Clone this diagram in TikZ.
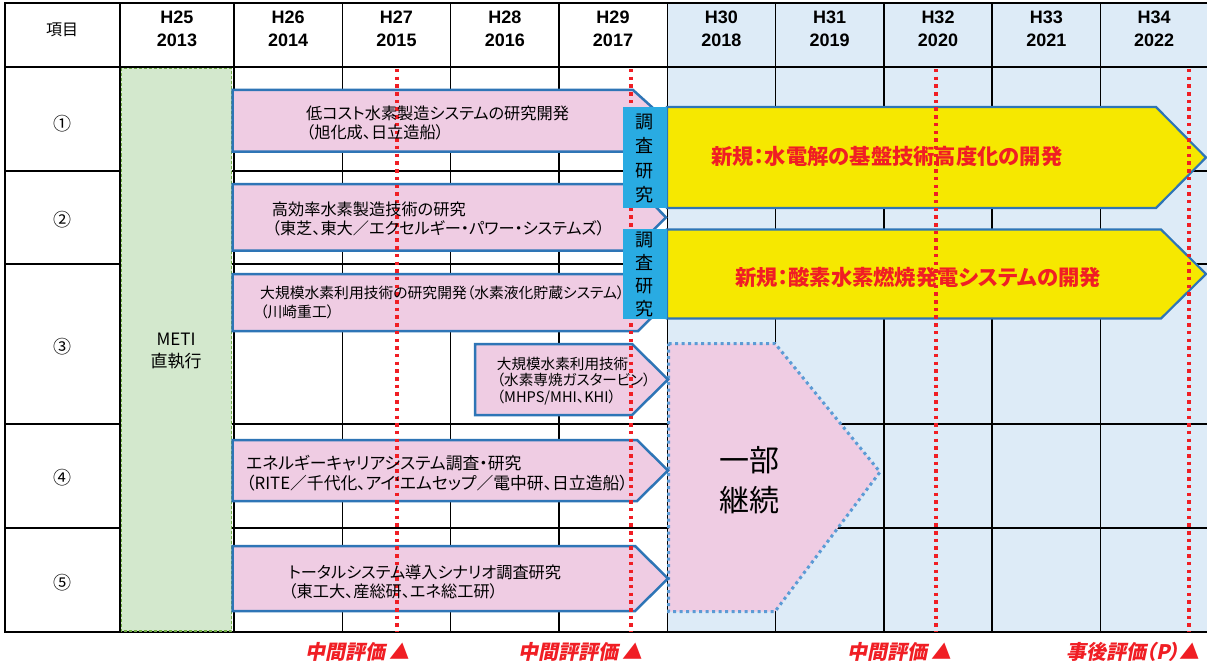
\documentclass[tikz,border=0pt]{standalone}
\usepackage{fontspec}
\newfontfamily\jp{Noto Sans CJK JP}[RawFeature=+palt]
\newfontfamily\jpsl{Noto Sans CJK JP}[RawFeature=+palt,FakeSlant=0.2]
\newfontfamily\hd{Liberation Sans}
\definecolor{pinkf}{RGB}{239,204,227}
\definecolor{ablue}{RGB}{46,117,182}
\definecolor{lblue}{RGB}{221,235,247}
\definecolor{yel}{RGB}{246,232,0}
\definecolor{sky}{RGB}{41,171,226}
\definecolor{gfill}{RGB}{211,232,205}
\definecolor{gdash}{RGB}{112,173,71}
\definecolor{redd}{RGB}{240,30,36}
\definecolor{dotblue}{RGB}{91,155,213}
\begin{document}
\begin{tikzpicture}[x=1pt,y=-1pt,
  gridl/.style={line width=1.4pt,black},
  border/.style={line width=2pt,black},
  pinkarrow/.style={fill=pinkf,draw=ablue,line width=2.5pt,line join=miter},
  yelarrow/.style={fill=yel,draw=ablue,line width=2.2pt,line join=miter},
  reddots/.style={draw=redd,line width=3.5pt,dash pattern=on 3.5pt off 4.2pt},
  metibox/.style={fill=gfill,draw=gdash,line width=1.3pt,dash pattern=on 3pt off 2pt},
  skybox/.style={fill=sky},
  penta/.style={fill=pinkf,draw=dotblue,line width=3pt,dash pattern=on 3pt off 3.5pt},
  hdr/.style={font={\hd\bfseries\fontsize{18}{23}\selectfont},align=center,inner sep=0},
  jplab/.style={font={\jp\fontsize{16}{19}\selectfont},inner sep=0},
  numlab/.style={font={\jp\fontsize{18}{20}\selectfont},inner sep=0},
  ptext/.style={font={\jp\fontsize{16.2}{19}\selectfont},anchor=west,align=left,inner sep=0},
  ptextk/.style={ptext,font={\jp\fontsize{14.8}{19}\selectfont}},
  ytext/.style={font={\jp\bfseries\fontsize{21.3}{24}\selectfont},text=redd,inner sep=0},
  btext/.style={font={\jp\fontsize{18}{24.5}\selectfont},align=center,inner sep=0},
  rlab/.style={font={\jpsl\bfseries\fontsize{20}{22}\selectfont},text=redd,anchor=east,inner sep=0}
]
\useasboundingbox (0,0) rectangle (1207,666);
\fill[white] (0,0) rectangle (1207,666);
% light blue future area
\fill[lblue] (667.2,3) rectangle (1210,632);
% grid
\foreach \x in {120,234,342.3,450.6,558.9,667.2,775.5,883.8,992.1,1100.4}
  \draw[gridl] (\x,3) -- (\x,632);
\foreach \y in {171,264,424,528}
  \draw[gridl] (5,\y) -- (1210,\y);
\draw[border] (5,67) -- (1210,67);
\draw[border] (1210,3) -- (5,3) -- (5,632) -- (1210,632);
% METI box
\draw[metibox] (121.2,68.5) rectangle (231.5,631);
% partial continuation pentagon
\draw[penta] (668.5,343.5) -- (775,343.5) -- (880,472) -- (775,611.5) -- (668.5,611.5) -- cycle;
% pink arrows
\draw[pinkarrow] (232.7,90) -- (633,90) -- (667,120.7) -- (633,151.5) -- (232.7,151.5) -- cycle;
\draw[pinkarrow] (232.7,184) -- (633,184) -- (666,217.3) -- (633,250.7) -- (232.7,250.7) -- cycle;
\draw[pinkarrow] (232.7,274) -- (638,274) -- (667,302.5) -- (638,331) -- (232.7,331) -- cycle;
\draw[pinkarrow] (475,344) -- (632,344) -- (668,379.5) -- (632,415) -- (475,415) -- cycle;
\draw[pinkarrow] (232.7,440) -- (637,440) -- (668,470.5) -- (637,501) -- (232.7,501) -- cycle;
\draw[pinkarrow] (232.7,546) -- (635,546) -- (668,578.5) -- (635,611) -- (232.7,611) -- cycle;
% yellow arrows
\draw[yelarrow] (667,107) -- (1156,107) -- (1206,157.5) -- (1156,208) -- (667,208) -- cycle;
\draw[yelarrow] (667,229.5) -- (1161,229.5) -- (1206,274) -- (1161,318.5) -- (667,318.5) -- cycle;
% red dotted evaluation lines
\foreach \x in {397,631,936,1189}
  \draw[reddots] (\x,69) -- (\x,632);
% survey boxes
\fill[skybox] (622.7,106.7) rectangle (667,208.3);
\fill[skybox] (622.7,229.3) rectangle (667,319);
% header texts
\node[jplab] (hk) at (62,30) {項目};
\foreach \cx/\h/\yr [count=\i] in {177/H25/2013,288.2/H26/2014,396.5/H27/2015,504.8/H28/2016,613/H29/2017,721.4/H30/2018,829.7/H31/2019,938/H32/2020,1046.3/H33/2021,1154.2/H34/2022}
  \node[hdr] (hy\i) at (\cx,29) {\h\\\yr};
% item numbers
\node[numlab] (n1) at (62,124) {①};
\node[numlab] (n2) at (62,220) {②};
\node[numlab] (n3) at (62,347) {③};
\node[numlab] (n4) at (62,478) {④};
\node[numlab] (n5) at (62,583) {⑤};
% METI
\node[font={\jp\fontsize{17}{22}\selectfont},align=center,inner sep=0] (meti) at (176,351) {METI\\直執行};
% pink arrow texts
\node[ptext] (t1) at (306,122.5) {低コスト水素製造システムの研究開発\\（旭化成、日立造船）};
\node[ptext] (t2) at (271.7,219) {高効率水素製造技術の研究\\（東芝、東大／エクセルギー・パワー・システムズ）};
\node[ptextk] (t3) at (260,302.5) {大規模水素利用技術の研究開発（水素液化貯蔵システム）\\（川崎重工）};
\node[ptext,font={\jp\fontsize{14.6}{16.5}\selectfont}] (t3b) at (496.7,381) {大規模水素利用技術\\（水素専焼ガスタービン）\\（MHPS/MHI、KHI）};
\node[ptext,font={\jp\fontsize{16.8}{19.5}\selectfont}] (t4) at (246,473) {エネルギーキャリアシステム調査・研究\\（RITE／千代化、アイ‘エムセップ／電中研、日立造船）};
\node[ptext] (t5) at (288.3,582) {トータルシステム導入シナリオ調査研究\\（東工大、産総研、エネ総工研）};
% yellow texts
\node[ytext] (y1) at (887,156) {新規：水電解の基盤技術高度化の開発};
\node[ytext] (y2) at (918,277) {新規：酸素水素燃焼発電システムの開発};
% survey box texts
\node[btext] (b1) at (644.8,158.5) {調\\査\\研\\究};
\node[btext,font={\jp\fontsize{18}{23}\selectfont}] (b2) at (644.8,275) {調\\査\\研\\究};
% pentagon text
\node[font={\jp\fontsize{30}{40}\selectfont},align=center,inner sep=0] (ib) at (749,480) {一部\\継続};
% evaluation labels
\node[rlab] (e1) at (410,652) {中間評価 ▲};
\node[rlab] (e2) at (643,652) {中間評評価 ▲};
\node[rlab] (e3) at (952,652) {中間評価 ▲};
\node[rlab] (e4) at (1200,652) {事後評価（P）▲};
\end{tikzpicture}
\end{document}
